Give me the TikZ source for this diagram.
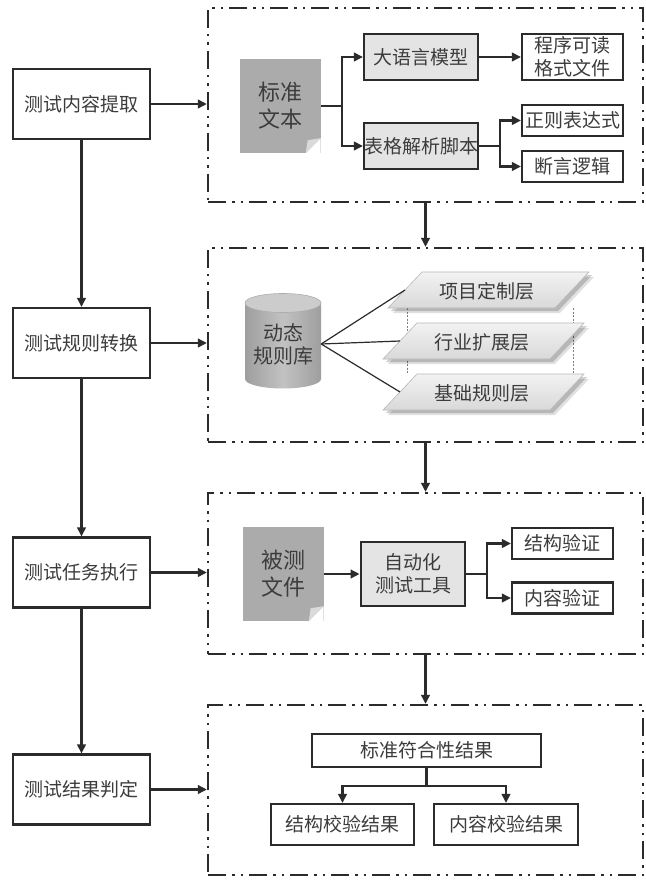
\documentclass[tikz,border=0pt]{standalone}
\usepackage{fontspec}
\newfontfamily\cjk{Noto Sans CJK SC}
\usetikzlibrary{arrows.meta,calc}
\definecolor{ln}{HTML}{2B2B2B}
\definecolor{txt}{HTML}{3C3C3C}
\definecolor{lgray}{HTML}{E4E4E4}
\definecolor{docgray}{HTML}{ABABAB}
\definecolor{foldc}{HTML}{DADADA}
\tikzset{
  base/.style={inner sep=0pt, text=txt, align=center, font=\cjk\fontsize{19}{23}\selectfont},
  lbox/.style={base, draw=ln, line width=2.1pt, fill=white, minimum width=137pt, minimum height=70pt},
  wbox/.style={base, draw=ln, line width=2.1pt, fill=white},
  gbox/.style={base, draw=ln, line width=2.1pt, fill=lgray},
  doc/.style={base, fill=docgray, minimum width=81pt, minimum height=94pt, text=txt, font=\cjk\fontsize{22}{27}\selectfont},
  frame/.style={draw=ln, line width=2.2pt, dash pattern=on 18pt off 6pt on 2.5pt off 6pt on 2.5pt off 6pt, minimum width=435pt, inner sep=0pt},
  arr/.style={draw=ln, line width=2.5pt, -{Triangle[length=9pt,width=8.5pt]}},
  plain/.style={draw=ln, line width=2.5pt},
  thinln/.style={draw=ln, line width=1.2pt},
  laytext/.style={base, font=\cjk\fontsize{19}{23}\selectfont}
}
\newcommand\docfold[1]{%
  \fill[white] ($(#1.south east)+(-15pt,0)$) -- (#1.south east) -- ($(#1.south east)+(0,15pt)$) -- cycle;
  \fill[foldc] ($(#1.south east)+(-15pt,0)$) -- ($(#1.south east)+(0,15pt)$) -- ($(#1.south east)+(-13pt,13pt)$) -- cycle;
}
\newcommand\layer[4]{%
  \fill[black, opacity=0.12] (#2+5,#3+5) -- ++(34,-36) -- ++(167,0) -- ++(-34,36) -- cycle;
  \fill[black, opacity=0.18] (#2+3,#3+3) -- ++(34,-36) -- ++(167,0) -- ++(-34,36) -- cycle;
  \path[top color=white!95!black, bottom color=white!85!black, draw=white!72!black, line width=0.6pt] (#2,#3) -- ++(34,-36) -- ++(167,0) -- ++(-34,36) -- cycle;
  \node[laytext] (#1) at (#2+99,#3-17) {#4};
  \coordinate (#1w) at (#2+17,#3-18);
}
\begin{document}
\begin{tikzpicture}[x=1pt,y=-1pt]
\useasboundingbox (0,0) rectangle (645,882);
\fill[white] (0,0) rectangle (645,882);

% left column
\node[lbox] (L1) at (81.5,104) {测试内容提取};
\node[lbox] (L2) at (81.5,343) {测试规则转换};
\node[lbox] (L3) at (81.5,572.5) {测试任务执行};
\node[lbox] (L4) at (81.5,789.5) {测试结果判定};

% frames
\node[frame, minimum height=194pt] (F1) at (425.5,105) {};
\node[frame, minimum height=194pt] (F2) at (425.5,345) {};
\node[frame, minimum height=161pt] (F3) at (425.5,573.5) {};
\node[frame, minimum height=170pt] (F4) at (425.5,790) {};

\draw[arr] (L1) -- (L2);
\draw[arr] (L2) -- (L3);
\draw[arr] (L3) -- (L4);
\draw[arr] (L1.east) -- (L1.east -| F1.west);
\draw[arr] (L2.east) -- (L2.east -| F2.west);
\draw[arr] (L3.east) -- (L3.east -| F3.west);
\draw[arr] (L4.east) -- (L4.east -| F4.west);
\draw[arr] (F1.south) -- (F2.north);
\draw[arr] (F2.south) -- (F3.north);
\draw[arr] (F3.south) -- (F4.north);

% frame 1
\node[doc] (D1) at (280,106) {标准\\文本};
\docfold{D1}
\node[gbox, minimum width=114pt, minimum height=46pt] (LLM) at (421,57) {大语言模型};
\node[gbox, minimum width=114pt, minimum height=46pt] (TBL) at (421,146) {表格解析脚本};
\node[wbox, minimum width=101pt, minimum height=46pt] (PRG) at (572.5,57) {程序可读\\格式文件};
\node[wbox, minimum width=101pt, minimum height=31pt] (REG) at (572.5,120.5) {正则表达式};
\node[wbox, minimum width=101pt, minimum height=31pt] (ASR) at (572.5,166.5) {断言逻辑};
\coordinate (J1) at (342,106);
\coordinate (J2) at (500,146);
\draw[arr] (D1.east) -- (J1) |- (LLM.west);
\draw[arr] (J1) |- (TBL.west);
\draw[arr] (LLM.east) -- (PRG.west);
\draw[arr] (TBL.east) -- (J2) |- (REG.west);
\draw[arr] (J2) |- (ASR.west);

% frame 2
\path[left color=white!62!black, right color=white!62!black, middle color=white!76!black]
  (245,303) -- (245,379) arc[start angle=180, end angle=360, x radius=38pt, y radius=9.5pt] -- (321,303) -- cycle;
\path[fill=white!80!black, draw=white!68!black, line width=0.6pt] (283,303) ellipse [x radius=38pt, y radius=9.5pt];
\node[base, minimum width=76pt, minimum height=80pt, font=\cjk\fontsize{20}{23}\selectfont] (DB) at (283,344) {动态\\规则库};
\draw[gray, line width=0.6pt, dash pattern=on 2pt off 1.5pt] (407,308) -- (407,374);
\draw[gray, line width=0.6pt, dash pattern=on 2pt off 1.5pt] (573,308) -- (573,374);
\layer{P3}{383}{410}{基础规则层}
\layer{P2}{383}{359}{行业扩展层}
\layer{P1}{388}{308}{项目定制层}
\draw[thinln] (DB.east) -- (P1w);
\draw[thinln] (DB.east) -- (P2w);
\draw[thinln] (DB.east) -- (P3w);

% frame 3
\node[doc] (D2) at (283,574) {被测\\文件};
\docfold{D2}
\node[gbox, line width=2.8pt, minimum width=104pt, minimum height=64pt] (TOOL) at (413,574) {自动化\\测试工具};
\node[wbox, minimum width=101pt, minimum height=31pt] (SV) at (562.5,543.5) {结构验证};
\node[wbox, minimum width=101pt, minimum height=31pt] (CV) at (562.5,598) {内容验证};
\coordinate (J3) at (487,574);
\draw[arr] (D2.east) -- (TOOL.west);
\draw[arr] (TOOL.east) -- (J3) |- (SV.west);
\draw[arr] (J3) |- (CV.west);

% frame 4
\node[wbox, minimum width=229pt, minimum height=33pt] (RES) at (426.5,750.5) {标准符合性结果};
\node[wbox, minimum width=143pt, minimum height=41pt] (SR) at (342.5,824.5) {结构校验结果};
\node[wbox, minimum width=144pt, minimum height=41pt] (CR) at (506,824.5) {内容校验结果};
\coordinate (J4) at (426.5,786);
\draw[plain] (RES.south) -- (J4);
\draw[arr] (J4) -| (SR.north);
\draw[arr] (J4) -| (CR.north);
\end{tikzpicture}
\end{document}
